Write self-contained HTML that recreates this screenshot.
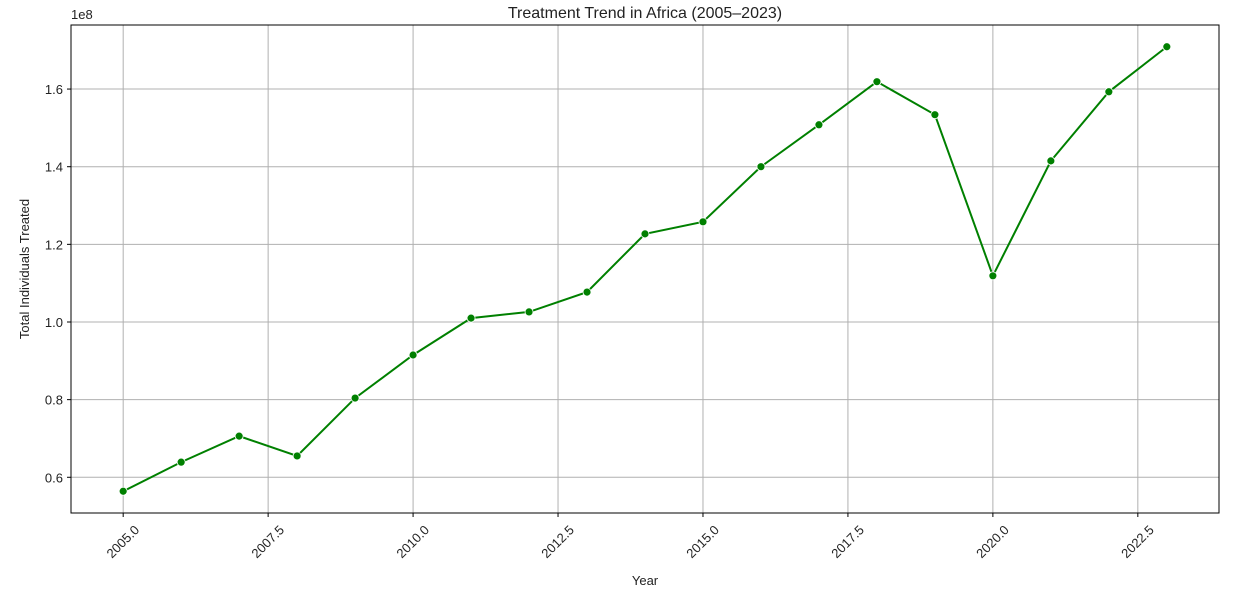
<!DOCTYPE html>
<html><head><meta charset="utf-8"><style>
body{margin:0;background:#fff;}
svg text{font-family:"Liberation Sans","DejaVu Sans",sans-serif;fill:#222;}
</style></head><body>
<svg id="chart" width="1236" height="602" xmlns="http://www.w3.org/2000/svg">
<text x="645" y="18" text-anchor="middle" font-size="16">Treatment Trend in Africa (2005–2023)</text>
<text x="71" y="19" font-size="13">1e8</text>
<text x="645" y="585" text-anchor="middle" font-size="13">Year</text>
<text transform="translate(29,269) rotate(-90)" text-anchor="middle" font-size="13">Total Individuals Treated</text>
<g id="grid"></g><g id="axes"></g><g id="series"></g>
<rect x="71" y="25" width="1148" height="488" fill="none" stroke="#000" stroke-width="1"/>
</svg>
<script>
const years=[2005,2006,2007,2008,2009,2010,2011,2012,2013,2014,2015,2016,2017,2018,2019,2020,2021,2022,2023];
const treated=[0.564,0.639,0.706,0.655,0.804,0.915,1.010,1.026,1.077,1.227,1.258,1.400,1.508,1.619,1.534,1.119,1.415,1.593,1.709];
const xTicks=[2005,2007.5,2010,2012.5,2015,2017.5,2020,2022.5];
const yTicks=[0.6,0.8,1.0,1.2,1.4,1.6];
const L=71,R=1219,T=25,B=513;
const xMin=2004.1,xMax=2023.9,yMin=0.508,yMax=1.765;
const X=v=>L+(v-xMin)/(xMax-xMin)*(R-L);
const Y=v=>B-(v-yMin)/(yMax-yMin)*(B-T);
const NS="http://www.w3.org/2000/svg";
function mk(t,a,p){const e=document.createElementNS(NS,t);for(const k in a)e.setAttribute(k,a[k]);p.appendChild(e);return e;}
const grid=document.getElementById('grid'),axes=document.getElementById('axes'),ser=document.getElementById('series');
xTicks.forEach(t=>{const x=X(t);
const g=mk('line',{x1:x,x2:x,y1:T,y2:B,stroke:'#b0b0b0','stroke-width':1},grid);


mk('line',{x1:x,x2:x,y1:B,y2:B+4,stroke:'#000'},axes);
const cy=B+29;
const tx=mk('text',{x:x,y:cy+4,'text-anchor':'middle','font-size':13,transform:`rotate(-45 ${x} ${cy})`},axes);
tx.textContent=t.toFixed(1);

});
yTicks.forEach(t=>{const y=Y(t);
const g=mk('line',{x1:L,x2:R,y1:y,y2:y,stroke:'#b0b0b0','stroke-width':1},grid);


mk('line',{x1:L-4,x2:L,y1:y,y2:y,stroke:'#000'},axes);
const tx=mk('text',{x:L-8,y:y+5,'text-anchor':'end','font-size':13},axes);
tx.textContent=t.toFixed(1);

});
const line=mk('polyline',{points:years.map((y,i)=>X(y)+','+Y(treated[i])).join(' '),fill:'none',stroke:'#008000','stroke-width':2},ser);


years.forEach((y,i)=>{const c=mk('circle',{cx:X(y),cy:Y(treated[i]),r:4,fill:'#008000',stroke:'#fff','stroke-width':0.8},ser);

});
</script>
</body></html>
